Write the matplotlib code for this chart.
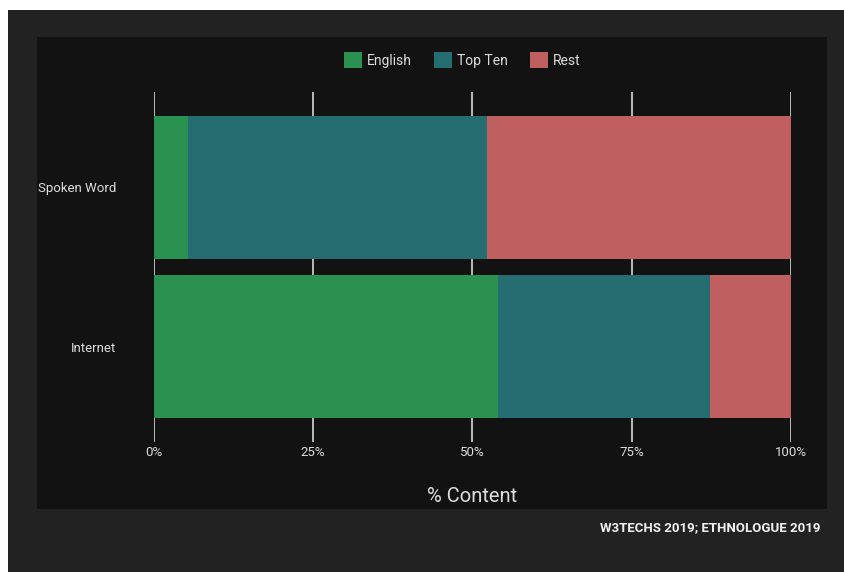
import matplotlib
matplotlib.use("Agg")
import matplotlib.pyplot as plt
from matplotlib.patches import Patch, Rectangle

categories = ["Internet", "Spoken Word"]
series_names = ["English", "Top Ten", "Rest"]
english = [54.0, 5.3]
top_ten = [33.3, 47.0]
rest = [12.7, 47.7]
xticks = [0, 25, 50, 75, 100]
xtick_labels = ["0%", "25%", "50%", "75%", "100%"]
colors = ["#2a9150", "#266d72", "#c05f5f"]

FONT = ["Roboto", "DejaVu Sans"]
plt.rcParams["font.family"] = FONT

W, H = 845, 572
fig = plt.figure(figsize=(W / 100, H / 100), dpi=100)
fig.patch.set_facecolor("white")

def fx(px):
    return px / W

def fy(py):
    return 1 - py / H

# outer dark frame
fig.add_artist(Rectangle((fx(8), 0), 1 - fx(8), fy(10), transform=fig.transFigure,
                         facecolor="#222222", edgecolor="none", zorder=0))
# inner panel
fig.add_artist(Rectangle((fx(37), fy(509)), fx(827 - 37), (509 - 37) / H,
                         transform=fig.transFigure, facecolor="#121212",
                         edgecolor="none", zorder=0))

ax = fig.add_axes([fx(154), fy(442), fx(791 - 154), (442 - 92) / H])
ax.set_facecolor("none")
ax.patch.set_alpha(0)

ypos = list(range(len(categories)))
left = [0] * len(categories)
for vals, name, c in zip([english, top_ten, rest], series_names, colors):
    ax.barh(ypos, vals, left=left, height=0.9, color=c, label=name, zorder=2)
    left = [l + v for l, v in zip(left, vals)]

ax.set_xlim(0, 100)
ax.set_ylim(-0.6, 1.6)
ax.set_xticks(xticks)
ax.set_xticklabels(xtick_labels)
ax.set_yticks(ypos)
ax.set_yticklabels(categories)
for x in xticks:
    ax.axvline(x, color="#bbbbbb", lw=1.4, zorder=1)
for s in ax.spines.values():
    s.set_visible(False)
ax.tick_params(axis="x", length=0, pad=3, labelsize=9.5, labelcolor="#dddddd")
ax.tick_params(axis="y", length=0, pad=27, labelsize=9.5, labelcolor="#dddddd")

ax.set_xlabel("% Content", fontsize=14.5, color="#dddddd", labelpad=20)

handles = [Patch(facecolor=c, edgecolor="none") for c in colors]
fig.legend(handles, series_names, loc="center", bbox_to_anchor=(fx(462), fy(60)),
           ncol=3, frameon=False, fontsize=10, labelcolor="#dddddd",
           handlelength=1.3, handleheight=1.45, handletextpad=0.35,
           columnspacing=1.6)

fig.text(fx(820), fy(528), "W3TECHS 2019; ETHNOLOGUE 2019", ha="right", va="center",
         fontsize=9.5, fontweight="bold", color="#f0f0f0")

fig.savefig("out.png", dpi=100, facecolor=fig.get_facecolor())
